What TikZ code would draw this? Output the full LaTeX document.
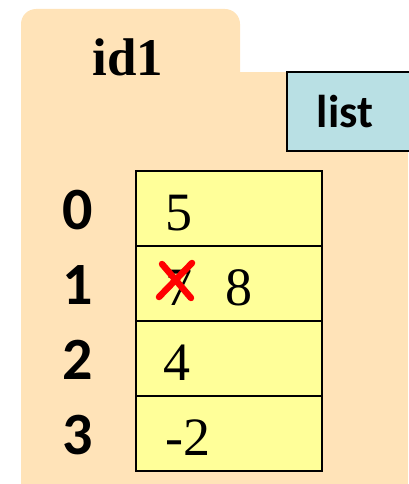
\documentclass[tikz,border=0pt]{standalone}
\usepackage{fontspec}
\setmainfont{Liberation Serif}
\newfontfamily\idxfont{Carlito}
\definecolor{folderbg}{HTML}{FFE3B8}
\definecolor{cellbg}{HTML}{FFFF99}
\definecolor{typebg}{HTML}{B9E0E4}
\definecolor{crossred}{HTML}{FF0000}
\begin{document}
\begin{tikzpicture}[x=1pt,y=-1pt,
  cell/.style={draw=black,line width=2.4pt,fill=cellbg},
  idx/.style={font=\idxfont\bfseries\fontsize{60}{60}\selectfont,inner sep=0pt,anchor=base},
  val/.style={font=\fontsize{54}{54}\selectfont,inner sep=0pt,anchor=base west},
  cross/.style={draw=crossred,line width=6.5pt,line cap=round}]
\useasboundingbox (0,0) rectangle (408,484);
% folder
\fill[folderbg,rounded corners=15] (21,9) rectangle (240,110);
\fill[folderbg] (21,72) rectangle (408,484);
\node[inner sep=0pt,anchor=base,font=\bfseries\fontsize{53}{53}\selectfont] (id) at (128,76) {id1};
% type box
\draw[line width=2pt,fill=typebg] (287,72) rectangle (410,151);
\node[inner sep=0pt,anchor=base,font=\idxfont\bfseries\fontsize{46}{46}\selectfont] (type) at (345,128) {list};
% cells
\foreach \i/\t in {0/171,1/246,2/321,3/396}{
  \draw[cell] (136,\t) rectangle (322,\t+75);
  \node[idx] (i\i) at (78,\t+58) {\i};
}
\node[val] (v0) at (165,230) {5};
\node[val] (v1) at (165,305) {7};
\node[val] (v1b) at (225,305) {8};
\node[val] (v2) at (163,380) {4};
\node[val] (v3) at (165,455) {-2};
\draw[cross] (159,297) -- (192,263);
\draw[cross] (162,264) -- (191,298);
\end{tikzpicture}
\end{document}
